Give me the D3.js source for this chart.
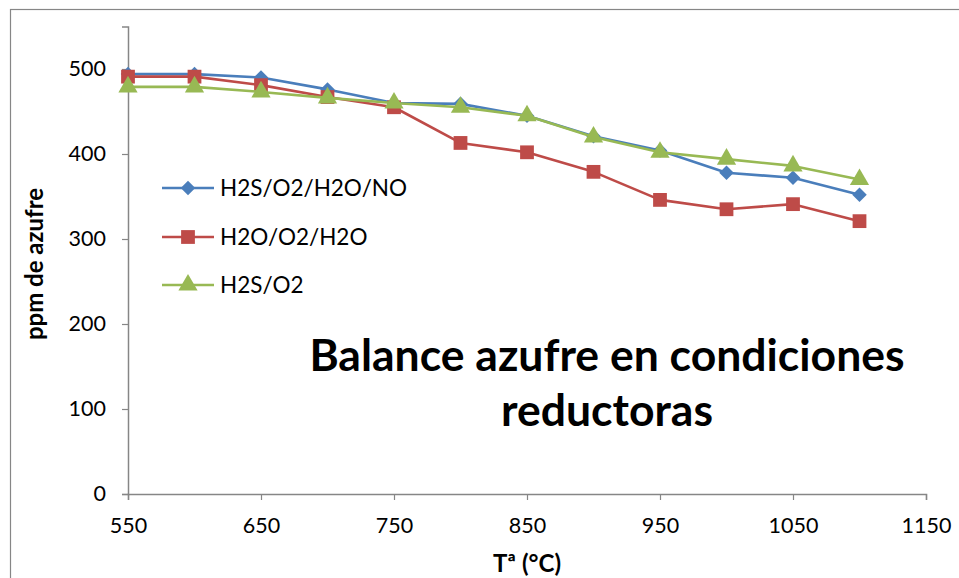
<!DOCTYPE html>
<html>
<head>
<meta charset="utf-8">
<script src="https://cdn.jsdelivr.net/npm/d3@7"></script>
<style>
  html, body { margin: 0; padding: 0; background: #fff; }
  svg { display: block; font-family: Lato, "Liberation Sans", sans-serif; }
</style>
</head>
<body>
<svg id="chart" width="959" height="578"></svg>
<script>
// Temperatures (°C)
const temps = [550, 600, 650, 700, 750, 800, 850, 900, 950, 1000, 1050, 1100];
// Sulfur balance (ppm) per feed mixture
const seriesNames = ["H2S/O2/H2O/NO", "H2O/O2/H2O", "H2S/O2"];
const h2sO2H2oNo = [494, 494, 490, 476, 460, 459, 445, 421, 404, 378, 372, 352];
const h2oO2H2o   = [491, 491, 481, 467, 455, 413, 402, 379, 346, 335, 341, 321];
const h2sO2      = [479, 479, 473, 466, 460, 455, 445, 420, 402, 394, 386, 370];
const xTicks = [550, 650, 750, 850, 950, 1050, 1150];
const yTicks = [0, 100, 200, 300, 400, 500];

const colors = ["#4A7EBB", "#BE4B48", "#98B954"];
// diamond = square turned 45°
const symbols = [d3.symbolSquare, d3.symbolSquare, d3.symbolTriangle];
const symbolSizes = [105, 190, 160];
const symbolRotation = [45, 0, 0];
const values = [h2sO2H2oNo, h2oO2H2o, h2sO2];

const svg = d3.select("#chart");

// chart frame
svg.append("rect")
  .attr("x", 10.5).attr("y", 9.5)
  .attr("width", 1000).attr("height", 600)
  .attr("fill", "none").attr("stroke", "#868686").attr("stroke-width", 1.2);

const x = d3.scaleLinear().domain([550, 1150]).range([128, 926]);
const y = d3.scaleLinear().domain([0, 550]).range([494, 26.5]);

// x axis
const xAxis = svg.append("g")
  .attr("transform", `translate(0,${y(0)})`)
  .call(d3.axisBottom(x).tickValues(xTicks).tickSize(6).tickPadding(18).tickFormat(d3.format("d")));
// y axis
const yAxis = svg.append("g")
  .attr("transform", `translate(${x(550)},0)`)
  .call(d3.axisLeft(y).tickValues(yTicks).tickSize(6).tickPadding(16).tickFormat(d3.format("d")));

[xAxis, yAxis].forEach(g => {
  g.select(".domain").attr("stroke", "#868686").attr("stroke-width", 1.5);
  g.selectAll(".tick line").attr("stroke", "#868686").attr("stroke-width", 1.2);
  g.selectAll(".tick text").attr("fill", "#000").style("font-size", "21.5px")
    .style("font-family", "Lato, 'Liberation Sans', sans-serif");
});

// axis titles
svg.append("text")
  .attr("x", 527).attr("y", 572)
  .attr("text-anchor", "middle")
  .style("font-size", "24px").style("font-weight", "bold")
  .text("Tª (°C)");
svg.append("text")
  .attr("transform", `translate(43,264) rotate(-90)`)
  .attr("text-anchor", "middle")
  .style("font-size", "24px").style("font-weight", "bold")
  .text("ppm de azufre");

// series lines and markers
const line = d3.line().x((d, i) => x(temps[i])).y(d => y(d));
values.forEach((vals, s) => {
  svg.append("path")
    .datum(vals)
    .attr("d", line)
    .attr("fill", "none")
    .attr("stroke", colors[s])
    .attr("stroke-width", 2.6)
    .attr("stroke-linejoin", "round");
  svg.append("g").selectAll("path")
    .data(vals)
    .join("path")
    .attr("transform", (d, i) => `translate(${x(temps[i])},${y(d)}) rotate(${symbolRotation[s]})`)
    .attr("d", d3.symbol().type(symbols[s]).size(symbolSizes[s]))
    .attr("fill", colors[s]);
});

// legend
const legendY = [188, 237, 285];
seriesNames.forEach((name, s) => {
  const g = svg.append("g").attr("transform", `translate(162,${legendY[s]})`);
  g.append("line").attr("x1", 0).attr("x2", 52).attr("y1", 0).attr("y2", 0)
    .attr("stroke", colors[s]).attr("stroke-width", 2.6);
  g.append("path").attr("transform", `translate(26,0) rotate(${symbolRotation[s]})`)
    .attr("d", d3.symbol().type(symbols[s]).size(symbolSizes[s]))
    .attr("fill", colors[s]);
  g.append("text").attr("x", 58).attr("y", 0).attr("dy", "0.35em")
    .style("font-size", "22.5px").text(name);
});

// in-plot title
const titleLines = ["Balance azufre en condiciones", "reductoras"];
svg.append("text")
  .attr("text-anchor", "middle")
  .style("font-size", "44.5px").style("font-weight", "bold")
  .selectAll("tspan")
  .data(titleLines)
  .join("tspan")
  .attr("x", 607)
  .attr("y", (d, i) => 371 + i * 55)
  .text(d => d);
</script>
</body>
</html>
